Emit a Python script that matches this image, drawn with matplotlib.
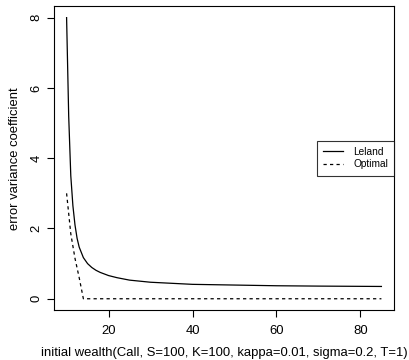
import matplotlib
matplotlib.use("Agg")
import matplotlib.pyplot as plt

# Data
leland_x = [10, 10.5, 11, 11.5, 12, 12.5, 13, 14, 15, 16, 17, 18, 20, 22, 25,
            30, 35, 40, 50, 60, 70, 85]
leland_y = [8.0, 5.2, 3.5, 2.65, 2.1, 1.72, 1.47, 1.17, 1.0, 0.89, 0.81, 0.75,
            0.66, 0.60, 0.53, 0.47, 0.44, 0.41, 0.39, 0.37, 0.36, 0.35]
optimal_x = [10, 11, 12, 13, 14, 85]
optimal_y = [3.0, 1.85, 1.15, 0.6, 0.0, 0.0]

x_ticks = [20, 40, 60, 80]
y_ticks = [0, 2, 4, 6, 8]
x_label = "initial wealth(Call, S=100, K=100, kappa=0.01, sigma=0.2, T=1)"
y_label = "error variance coefficient"
series_names = ["Leland", "Optimal"]

plt.rcParams['font.family'] = ['Liberation Sans', 'DejaVu Sans']

fig = plt.figure(figsize=(4.1, 3.6), dpi=100)
W, H = 410, 360
left, right, top, bottom = 54, 394, 6.4, 310
ax = fig.add_axes([left / W, 1 - bottom / H, (right - left) / W, (bottom - top) / H])

ax.plot(leland_x, leland_y, color='black', lw=0.9, label=series_names[0])
ax.plot(optimal_x, optimal_y, color='black', lw=0.9, linestyle=(0, (2.6, 2.6)),
        label=series_names[1])

ax.set_xlim(7, 88)
ax.set_ylim(-0.32, 8.32)
ax.set_xticks(x_ticks)
ax.set_yticks(y_ticks)
ax.tick_params(axis='both', direction='out', length=5, width=0.8, labelsize=9.4,
               colors='black')
ax.tick_params(axis='x', pad=5.5)
ax.tick_params(axis='y', pad=3.5)
for lbl in ax.get_yticklabels():
    lbl.set_rotation(90)
    lbl.set_va('center')
for s in ax.spines.values():
    s.set_linewidth(0.8)

ax.set_xlabel(x_label, fontsize=9.4, labelpad=7.5)
ax.set_ylabel(y_label, fontsize=9.4, labelpad=6.5)

leg = ax.legend(loc='center right', borderaxespad=0, fontsize=7.3, frameon=True,
                fancybox=False, edgecolor='black', handlelength=2.0, handletextpad=1.0,
                borderpad=0.6, labelspacing=0.25)
leg.get_frame().set_linewidth(0.8)

fig.savefig("out.png", dpi=100)
